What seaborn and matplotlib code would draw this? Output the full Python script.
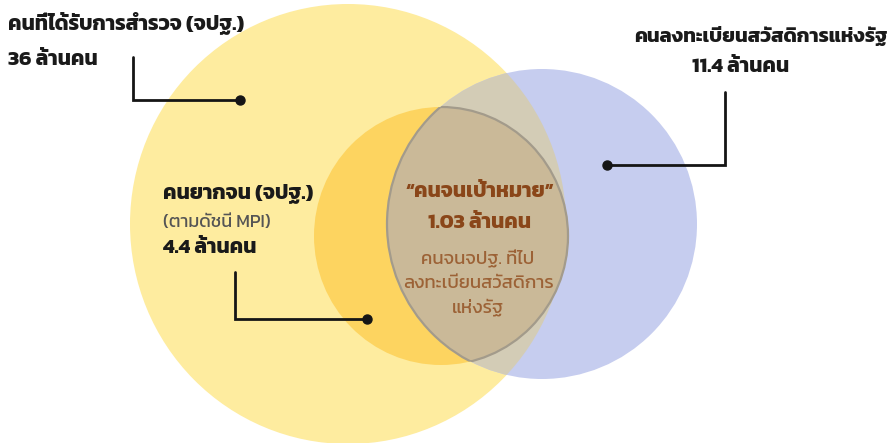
import matplotlib
matplotlib.use("Agg")
import matplotlib.pyplot as plt
from matplotlib import font_manager
from matplotlib.patches import Ellipse
import seaborn as sns
from fontTools.ttLib import TTFont

# ข้อมูล (ล้านคน)
groups = ["คนที่ได้รับการสำรวจ (จปฐ.)", "คนยากจน (จปฐ.)", "คนลงทะเบียนสวัสดิการแห่งรัฐ", "“คนจนเป้าหมาย”"]
values = [36, 4.4, 11.4, 1.03]
notes = ["(ตามดัชนี MPI)", "คนจนจปฐ. ที่ไป\nลงทะเบียนสวัสดิการ\nแห่งรัฐ"]
unit = "ล้านคน"

# layout of the diagram, in pixels of the 892x443 picture
W, H = 892, 443
big = dict(xy=(348, 224), width=436, height=440)
poor = dict(xy=(441, 236), width=254, height=258)
blue = dict(xy=(542, 224), width=310, height=310)

c_big, c_poor, c_blue = "#FEEC9F", "#FDD460", "#C6CDEF"
c_grey, c_core, c_edge = "#D3CCB6", "#CAB998", "#A39B8B"
c_brown, c_brown2 = "#8A4619", "#9C6236"


def thai_families():
    wanted = ["Kanit", "Prompt", "Noto Sans Thai", "Noto Sans Thai Looped", "Sarabun",
              "Loma", "Garuda", "Umpush", "Waree", "Tlwg Typist", "Norasi"]
    weights = {}
    for f in font_manager.fontManager.ttflist:
        if f.name not in weights:
            try:
                cmap = TTFont(f.fname, fontNumber=0, lazy=True).getBestCmap()
            except Exception:
                continue
            if not cmap or 0x0E04 not in cmap:
                continue
            weights[f.name] = []
        w = f.weight if isinstance(f.weight, int) else font_manager.weight_dict.get(f.weight, 400)
        weights[f.name].append(w)

    def rank(n):
        has_bold = max(weights[n]) >= 600
        return (not has_bold, wanted.index(n) if n in wanted else len(wanted))
    return sorted(weights, key=rank)


sns.set_theme(style="white")
plt.rcParams["font.family"] = thai_families()[:1] + ["DejaVu Sans"]

fig = plt.figure(figsize=(W / 100, H / 100), dpi=100)
ax = fig.add_axes([0, 0, 1, 1])
ax.set_xlim(0, W)
ax.set_ylim(H, 0)
ax.axis("off")

p_big = ax.add_patch(Ellipse(**big, fc=c_big, ec="none"))
p_poor = ax.add_patch(Ellipse(**poor, fc=c_poor, ec="none"))
p_blue = ax.add_patch(Ellipse(**blue, fc=c_blue, ec="none"))
ax.add_patch(Ellipse(**big, fc=c_grey, ec="none")).set_clip_path(p_blue)
ax.add_patch(Ellipse(**poor, fc=c_core, ec="none")).set_clip_path(p_blue)
ax.add_patch(Ellipse(**poor, fill=False, ec=c_edge, lw=1.6)).set_clip_path(p_blue)
ax.add_patch(Ellipse(**blue, fill=False, ec=c_edge, lw=1.6)).set_clip_path(p_poor)

# เส้นชี้
leaders = [([133, 133, 240], [57, 100, 100]),
           ([725, 725, 607], [92, 165, 165]),
           ([235, 235, 367], [272, 319, 319])]
for xs, ys in leaders:
    ax.plot(xs, ys, color="#151515", lw=2, solid_joinstyle="miter", zorder=5)
    ax.plot(xs[-1], ys[-1], "o", color="#151515", ms=6.5, zorder=6)


def label(v):
    return f"{v:g} {unit}"


kw = dict(va="center", fontweight="bold", color="#1A1A1A", fontsize=15)
ax.text(8, 23, groups[0], ha="left", **kw)
ax.text(8, 60, label(values[0]), ha="left", **kw)
ax.text(888, 36, groups[2], ha="right", fontsize=14.5,
        **{k: v for k, v in kw.items() if k != "fontsize"})
ax.text(741, 67, label(values[2]), ha="center", **kw)
ax.text(163, 193, groups[1], ha="left", **kw)
ax.text(163, 222, notes[0], ha="left", va="center", color="#555555", fontsize=13)
ax.text(163, 248, label(values[1]), ha="left", **kw)

kw.update(color=c_brown)
ax.text(480, 192, groups[3], ha="center", **kw)
ax.text(480, 223, label(values[3]), ha="center", **kw)
ax.text(478, 283, notes[1], ha="center", va="center", color=c_brown2,
        fontsize=13.3, linespacing=1.5)

fig.savefig("out.png", dpi=100)
